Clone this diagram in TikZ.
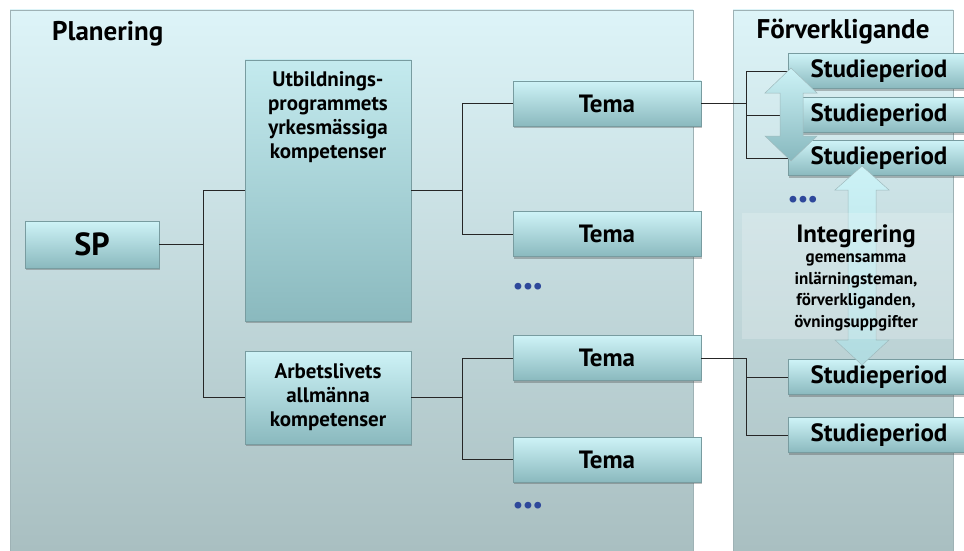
\documentclass[tikz,border=0pt]{standalone}
\usepackage{fontspec}
\setmainfont{PT Sans}
\usetikzlibrary{calc,shadows}
\definecolor{paneltop}{RGB}{221,244,248}
\definecolor{panelbot}{RGB}{168,190,192}
\definecolor{paneledge}{RGB}{158,178,181}
\definecolor{boxtop}{RGB}{206,243,247}
\definecolor{boxbot}{RGB}{138,185,190}
\definecolor{boxedge}{RGB}{120,156,160}
\definecolor{arrowtop}{RGB}{204,242,246}
\definecolor{arrowbot}{RGB}{135,184,190}
\definecolor{dotblue}{RGB}{46,72,155}
\tikzset{
  panel/.style={draw=paneledge,line width=0.8pt,top color=paneltop,bottom color=panelbot},
  tbox/.style={draw=boxedge,line width=0.5pt,top color=boxtop,bottom color=boxbot,inner sep=0pt,
    drop shadow={shadow xshift=1pt,shadow yshift=-2pt,opacity=0.35,fill=black!70},
    font=\bfseries\fontsize{25}{28}\selectfont},
  temabox/.style={tbox,minimum width=188pt,minimum height=45pt},
  studbox/.style={tbox,minimum width=182pt,minimum height=35pt},
  compbox/.style={tbox,align=center,font=\bfseries\fontsize{21}{24}\selectfont},
  boxtext/.style={align=center,inner sep=0pt,font=\bfseries\fontsize{21}{24}\selectfont},
  title/.style={inner sep=0pt,font=\bfseries\fontsize{27}{29}\selectfont},
  dots/.style={inner sep=0pt,text=dotblue,font=\bfseries\fontsize{22}{24}\selectfont},
  link/.style={draw=black!85,line width=0.7pt},
  blockarrow/.style={draw=boxedge!70,line width=0.5pt,top color=arrowtop,bottom color=arrowbot}
}
\begin{document}
\begin{tikzpicture}[x=1pt,y=-1pt]
  \useasboundingbox (0,0) rectangle (964,551);
  \fill[white] (0,0) rectangle (964,551);
  % panels
  \draw[panel] (10,10) rectangle (693,560);
  \draw[panel] (733,10) rectangle (953,560);
  \node[title,anchor=base west] (plantitle) at (52,41) {Planering};
  \node[title,anchor=base] (fortitle) at (843,39) {Förverkligande};
  % planering
  \node[tbox,minimum width=134pt,minimum height=47pt,font=\bfseries\fontsize{32}{34}\selectfont] (sp) at (92,244.5) {SP};
  \node[tbox,minimum width=166pt,minimum height=261pt,top color=boxtop!85!boxbot] (utb) at (328,190.5) {};
  \node[boxtext,anchor=north] (utbtext) at ($(utb.north)+(0,12)$) {Utbildnings-\\programmets\\yrkesmässiga\\kompetenser};
  \node[compbox,minimum width=166pt,minimum height=93pt] (arb) at (328,397.5) {Arbetslivets\\allmänna\\kompetenser};
  \foreach \n/\y in {1/103.5,2/234,3/358,4/459.5}
    \node[temabox] (tema\n) at (607,\y) {Tema};
  \node[dots] (pdots1) at (528,288) {•••};
  \node[dots] (pdots2) at (528,507) {•••};
  % forverkligande
  \foreach \n/\y in {1/71,2/115,3/158,4/377,5/435}
    \node[studbox] (stud\n) at (879,\y) {Studieperiod};
  \node[dots] (fdots) at (803,201) {•••};
  % connectors
  \draw[link] (sp.east) -- ++(44,0) coordinate (spj);
  \draw[link] (utb.west) -| (spj) |- (arb.west);
  \draw[link] (utb.east) -- ++(51,0) coordinate (utbj);
  \draw[link] (tema1.west) -| (utbj) |- (tema2.west);
  \draw[link] (arb.east) -- ++(51,0) coordinate (arbj);
  \draw[link] (tema3.west) -| (arbj) |- (tema4.west);
  \draw[link] (tema1.east) -- ++(45,0) coordinate (t1j);
  \draw[link] (stud1.west) -| (t1j) |- (stud3.west);
  \draw[link] (stud2.west) -- (stud2.west -| t1j);
  \draw[link] (tema3.east) -- ++(45,0) coordinate (t3j) |- (stud5.west);
  \draw[link] (stud4.west) -- (stud4.west -| t3j);
  % block arrows
  \draw[blockarrow] (791,68) -- (817,93) -- (803,93) -- (803,136) -- (817,136) -- (791,161)
    -- (765,136) -- (780,136) -- (780,93) -- (765,93) -- cycle;
  \draw[blockarrow,top color=arrowtop,bottom color=arrowtop!60!arrowbot] (862,166) -- (889,190) -- (876,190) -- (876,340) -- (889,340) -- (862,365)
    -- (835,340) -- (848,340) -- (848,190) -- (835,190) -- cycle;
  \fill[white,opacity=0.2] (742,213) rectangle (953,339);
  \node[title,anchor=base,font=\bfseries\fontsize{25}{27}\selectfont] (integ) at (856,242) {Integrering};
  \node[boxtext,anchor=north,font=\bfseries\fontsize{17}{21.5}\selectfont] (integsub) at (856,254) {gemensamma\\inlärningsteman,\\förverkliganden,\\övningsuppgifter};
\end{tikzpicture}
\end{document}
